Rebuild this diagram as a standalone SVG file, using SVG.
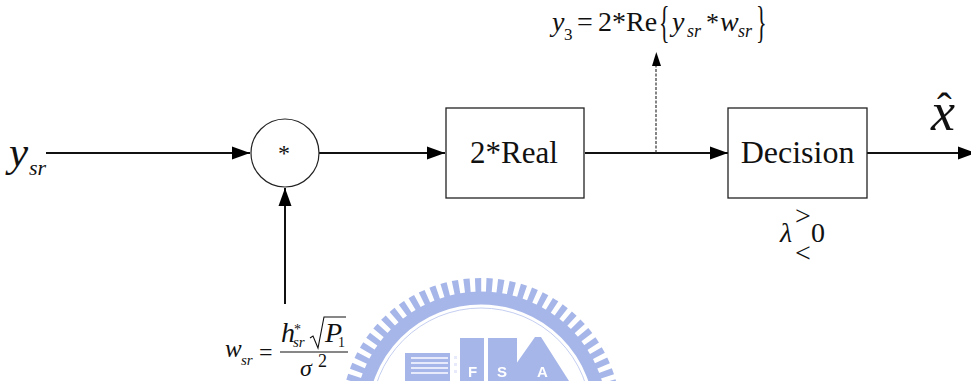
<svg xmlns="http://www.w3.org/2000/svg" width="971" height="381" viewBox="0 0 971 381">
<style>
.t{font-family:"Liberation Serif","Times New Roman",serif;fill:#111}
.i{font-style:italic}
.box{fill:#fff;stroke:#222;stroke-width:1.3}
.c{fill:none;stroke:#111;stroke-width:2}
.wm{fill:#a6b6e9}
.wl{font-family:"Liberation Sans",Arial,sans-serif;font-weight:bold;font-size:15px;fill:#fff}
</style>
<defs>
<marker id="a" markerUnits="userSpaceOnUse" markerWidth="20" markerHeight="14" refX="18" refY="7" orient="auto"><path d="M0 0.500L18 7L0 13.500Z" fill="#000"/></marker>
<filter id="soft" x="-5%" y="-5%" width="110%" height="110%"><feGaussianBlur stdDeviation="0.7"/></filter>
</defs>
<g id="watermark" filter="url(#soft)">
<circle cx="481" cy="418" r="120" fill="none" stroke="#a6b6e9" stroke-width="13"/>
<circle cx="481" cy="418" r="132" fill="none" stroke="#a6b6e9" stroke-width="16" stroke-dasharray="6 5"/>
<circle cx="481" cy="418" r="110" fill="none" stroke="#c4cef0" stroke-width="1"/>
<path class="wm" d="M405 353H450V381H405ZM460 338H484V381H460ZM488 338H517V381H488ZM516 364L535 337H541L569 381H516Z"/>
<path fill="#e6eafa" d="M411 357H448V359H411ZM411 362H448V364H411ZM411 367H448V369H411ZM411 372H448V374H411Z"/>
<path fill="#e6eafa" d="M454 356H457V359H454ZM454 363H457V366H454ZM454 370H457V373H454Z"/>
<text class="wl" x="468" y="377">F</text>
<text class="wl" x="497" y="377">S</text>
<text class="wl" x="537" y="377">A</text>
</g>
<g id="connectors">
<path class="c" marker-end="url(#a)" d="M46 153H250"/>
<path class="c" marker-end="url(#a)" d="M285 304V188"/>
<path class="c" d="M319 153H445" marker-end="url(#a)"/>
<path class="c" d="M585 153H728" marker-end="url(#a)"/>
<path class="c" d="M867 153H976" marker-end="url(#a)"/>
<path fill="none" stroke="#222" stroke-width="1.100" stroke-dasharray="3 1.500" d="M656 153V63"/>
<path d="M656.300 52L661 66H652Z" fill="#000"/>
</g>
<g id="multiplier">
<circle cx="285" cy="153" r="34" fill="#fff" stroke="#222" stroke-width="1.200"/>
<text class="t" x="284" y="161" font-size="24" text-anchor="middle">*</text>
</g>
<g id="real">
<rect class="box" x="446" y="108" width="138" height="90"/>
<text class="t" x="514" y="163" font-size="31" text-anchor="middle">2*Real</text>
</g>
<g id="decision">
<rect class="box" x="728" y="108" width="139" height="90"/>
<text class="t" x="797.500" y="163" font-size="32" text-anchor="middle">Decision</text>
</g>
<g id="input">
<text class="t i" x="9" y="166" font-size="43">y</text>
<text class="t i" x="29" y="175" font-size="22">sr</text>
</g>
<g id="output">
<text class="t i" x="931" y="130" font-size="54">x</text>
<text class="t" x="937" y="123" font-size="44">ˆ</text>
</g>
<g id="y3-label">
<text class="t i" x="552" y="31" font-size="28">y</text>
<text class="t" x="564" y="40" font-size="17">3</text>
<text class="t" x="577" y="31" font-size="28">=</text>
<text class="t" x="598" y="31" font-size="28">2*Re</text>
<text class="t" transform="translate(659,37) scale(0.500,1)" font-size="44">{</text>
<text class="t i" x="672" y="31" font-size="28">y</text>
<text class="t i" x="687" y="37" font-size="18">sr</text>
<text class="t" x="706" y="31" font-size="26">*</text>
<text class="t i" x="720" y="31" font-size="28">w</text>
<text class="t i" x="738" y="37" font-size="18">sr</text>
<text class="t" transform="translate(756,37) scale(0.500,1)" font-size="44">}</text>
</g>
<g id="lambda-label">
<text class="t i" x="780" y="242" font-size="28">λ</text>
<text class="t" x="811" y="242" font-size="28">0</text>
<text class="t" x="795" y="225" font-size="28">&gt;</text>
<text class="t" x="795" y="262" font-size="28">&lt;</text>
</g>
<g id="w-label">
<text class="t i" x="225" y="357" font-size="25">w</text>
<text class="t i" x="241" y="365" font-size="15">sr</text>
<text class="t" x="259" y="360" font-size="24">=</text>
<text class="t i" x="281" y="342" font-size="28">h</text>
<text class="t" x="294" y="334" font-size="14">*</text>
<text class="t i" x="293" y="347" font-size="15">sr</text>
<path d="M310 338L313 336L318 348L324 317H346" fill="none" stroke="#111" stroke-width="1.100"/>
<text class="t i" x="325" y="342" font-size="28">P</text>
<text class="t" x="338" y="347" font-size="14">1</text>
<path d="M280 352H348" stroke="#111" stroke-width="1.200"/>
<text class="t i" x="300" y="376" font-size="24">σ</text>
<text class="t" x="318" y="367" font-size="18">2</text>
</g>
</svg>
